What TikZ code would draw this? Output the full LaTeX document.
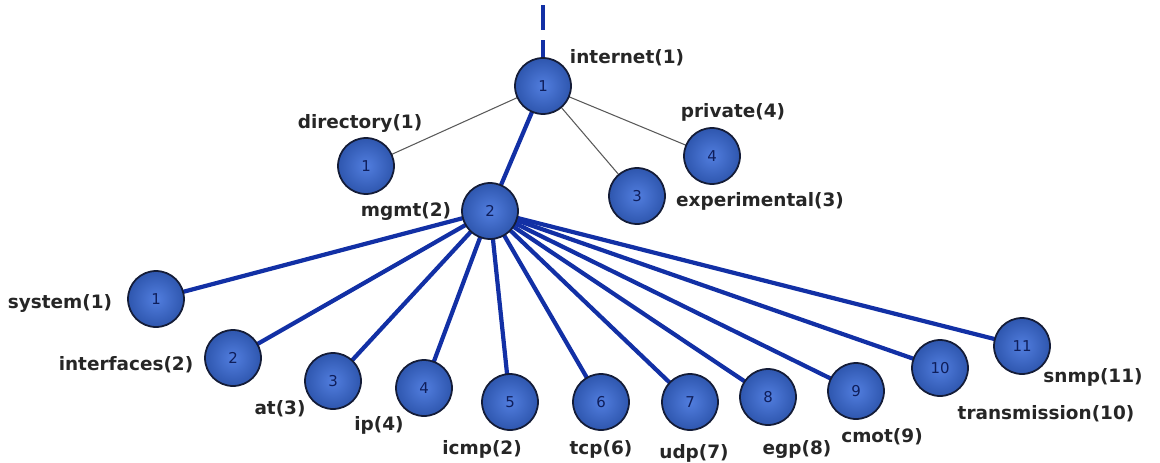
\documentclass[tikz,border=0pt]{standalone}
\usepackage{fontspec}
\setmainfont{DejaVu Sans}
\usetikzlibrary{calc,positioning}
\definecolor{ballblue}{RGB}{58,108,218}
\definecolor{balledge}{RGB}{20,28,55}
\definecolor{linkblue}{RGB}{18,48,165}
\definecolor{numblue}{RGB}{15,30,90}
\tikzset{
  ball/.style={circle,minimum size=1.12cm,inner sep=0pt,draw=balledge,line width=1pt,
    inner color=ballblue!88!white,outer color=ballblue!80!black,
    text=numblue,font=\fontsize{8.5}{8.5}\selectfont},
  lbl/.style={font=\bfseries\fontsize{10.5}{12}\selectfont,text=black!85},
  thin link/.style={draw=black!65,line width=0.6pt},
  thick link/.style={draw=linkblue,line width=2.4pt}
}
\begin{document}
\begin{tikzpicture}[x=0.02cm,y=-0.02cm]
\useasboundingbox (0,0) rectangle (1160,463);
% links first
\coordinate (up) at (543,5);
\coordinate (inetc) at (543,86);
\coordinate (mgmtc) at (490,211);
\draw[thick link,dash pattern=on 14pt off 6pt,line width=2.8pt] (up) -- ($(inetc)+(0,-29)$);
\draw[thin link] (inetc) -- (366,166) coordinate (dirc);
\draw[thin link] (inetc) -- (637,196) coordinate (expc);
\draw[thin link] (inetc) -- (712,156) coordinate (privc);
\draw[thick link] (inetc) -- (mgmtc);
\foreach \n/\x/\y in {1/156/299,2/233/358,3/333/381,4/424/388,5/510/402,6/601/402,
                      7/690/402,8/768/397,9/856/391,10/940/368,11/1022/346}
  \draw[thick link] (mgmtc) -- (\x,\y) coordinate (m\n);
% nodes
\node[ball] (inet) at (inetc) {1};
\node[ball] (dir) at (dirc) {1};
\node[ball] (mgmt) at (mgmtc) {2};
\node[ball] (exp) at (expc) {3};
\node[ball] (priv) at (privc) {4};
\foreach \n in {1,...,11}
  \node[ball] (mib\n) at (m\n) {\n};
% labels
\node[lbl] at (627,58) {internet(1)};
\node[lbl] at (360,123) {directory(1)};
\node[lbl] at (733,112) {private(4)};
\node[lbl] at (406,211) {mgmt(2)};
\node[lbl] at (760,201) {experimental(3)};
\node[lbl] at (60,303) {system(1)};
\node[lbl] at (126,365) {interfaces(2)};
\node[lbl] at (280,409) {at(3)};
\node[lbl] at (379,425) {ip(4)};
\node[lbl] at (482,449) {icmp(2)};
\node[lbl] at (601,449) {tcp(6)};
\node[lbl] at (694,453) {udp(7)};
\node[lbl] at (797,449) {egp(8)};
\node[lbl] at (882,437) {cmot(9)};
\node[lbl] at (1046,414) {transmission(10)};
\node[lbl] at (1093,377) {snmp(11)};
\end{tikzpicture}
\end{document}
